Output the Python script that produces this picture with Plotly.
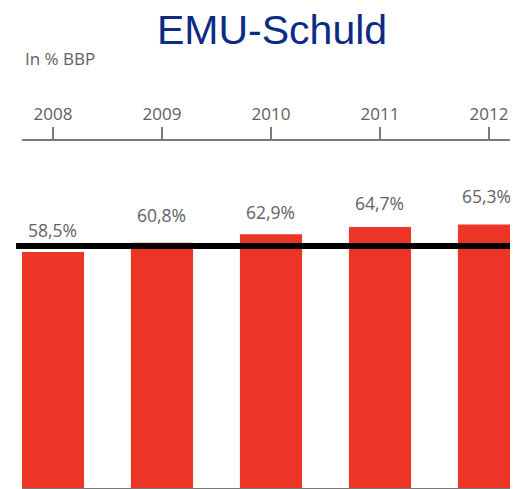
import plotly.graph_objects as go

# Data
years = ["2008", "2009", "2010", "2011", "2012"]
debt_pct = [58.5, 60.8, 62.9, 64.7, 65.3]
labels = ["58,5%", "60,8%", "62,9%", "64,7%", "65,3%"]
threshold = 60  # EMU norm

RED = "#EC3526"
BLUE = "#0C2C84"
GREY = "#5f6062"

fig = go.Figure()
fig.add_trace(go.Bar(
    x=years, y=debt_pct, width=0.57,
    marker=dict(color=RED, line=dict(width=0)),
    hoverinfo="skip",
))

label_yshift = [22, 28, 22, 24, 29]
label_xshift = [0, 0, 0, 0, -3]
for i, (v, t, s, xs) in enumerate(zip(debt_pct, labels, label_yshift, label_xshift)):
    fig.add_annotation(x=i, y=v, text=t, showarrow=False, yanchor="middle",
                       yshift=s, xshift=xs, font=dict(family="Open Sans", size=17.5, color="#606266"))

fig.add_shape(type="line", xref="paper", x0=-0.012, x1=1, yref="y", y0=threshold, y1=threshold,
              line=dict(color="black", width=6))

fig.add_annotation(xref="paper", yref="paper", x=0.505, y=1, text="EMU-Schuld",
                   showarrow=False, xanchor="center", yanchor="middle", yshift=111,
                   font=dict(family="Liberation Sans, Arial", size=41, color=BLUE))
fig.add_annotation(xref="paper", yref="paper", x=0.002, y=1, text="In % BBP", showarrow=False,
                   xanchor="left", yanchor="middle", yshift=83,
                   font=dict(family="Open Sans", size=17, color=GREY))

fig.update_layout(
    width=510, height=481,
    margin=dict(l=14, r=0, t=133, b=1),
    plot_bgcolor="white", paper_bgcolor="white",
    showlegend=False,
    xaxis=dict(type="category", side="top", range=[-0.284, 4.266], showgrid=False, zeroline=False,
               showline=True, linecolor="#7a7a7a", linewidth=1.5, mirror=True,
               ticks="outside", ticklen=12, tickwidth=1.5, tickcolor="#7a7a7a",
               tickfont=dict(family="Open Sans", size=17, color=GREY)),
    yaxis=dict(range=[0, 86.0], visible=False, fixedrange=True),
)

fig.write_html("out.html")
